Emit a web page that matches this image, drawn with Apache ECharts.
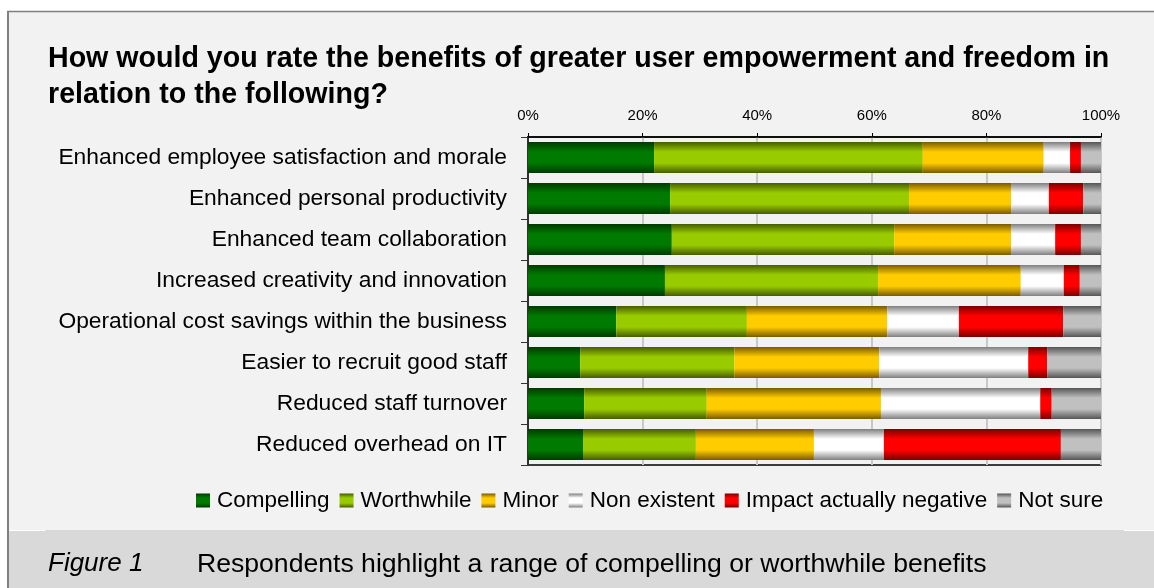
<!DOCTYPE html>
<html>
<head>
<meta charset="utf-8">
<script src="https://cdn.jsdelivr.net/npm/echarts@6/dist/echarts.min.js"></script>
<style>
  html, body { margin: 0; padding: 0; background: #ffffff; }
  #chart { width: 1154px; height: 588px; }
</style>
</head>
<body>
<div id="chart"></div>
<script>
// Survey question and statements (top to bottom)
const titleText = 'How would you rate the benefits of greater user empowerment and freedom in\nrelation to the following?';
const categories = [
  'Enhanced employee satisfaction and morale',
  'Enhanced personal productivity',
  'Enhanced team collaboration',
  'Increased creativity and innovation',
  'Operational cost savings within the business',
  'Easier to recruit good staff',
  'Reduced staff turnover',
  'Reduced overhead on IT'
];

// Share of respondents per answer (%), one value per statement
const compelling   = [22.0, 24.8, 25.1, 23.9, 15.4,  9.1,  9.8,  9.6];
const worthwhile   = [46.9, 41.7, 38.8, 37.2, 22.8, 26.9, 21.4, 19.7];
const minor        = [21.1, 17.8, 20.4, 24.9, 24.5, 25.3, 30.4, 20.6];
const nonExistent  = [ 4.6,  6.6,  7.7,  7.5, 12.5, 26.0, 27.8, 12.2];
const negative     = [ 1.9,  6.0,  4.5,  2.8, 18.2,  3.3,  2.0, 30.9];
const notSure      = [ 3.5,  3.1,  3.5,  3.7,  6.6,  9.4,  8.6,  7.0];

const axisTicks = [0, 20, 40, 60, 80, 100];
const figureLabel = 'Figure 1';
const captionText = 'Respondents highlight a range of compelling or worthwhile benefits';

// Tube-like shading: dark edges, bright middle
function tube(edge, mid) {
  return new echarts.graphic.LinearGradient(0, 0, 0, 1, [
    { offset: 0, color: edge },
    { offset: 0.32, color: mid },
    { offset: 0.68, color: mid },
    { offset: 1, color: edge }
  ]);
}

const seriesDefs = [
  { name: 'Compelling', data: compelling, edge: '#003a00', mid: '#007a00' },
  { name: 'Worthwhile', data: worthwhile, edge: '#465c00', mid: '#99cc00' },
  { name: 'Minor', data: minor, edge: '#7a5a00', mid: '#ffcc00' },
  { name: 'Non existent', data: nonExistent, edge: '#7f7f7f', mid: '#ffffff' },
  { name: 'Impact actually negative', data: negative, edge: '#7a0000', mid: '#ff0000' },
  { name: 'Not sure', data: notSure, edge: '#555555', mid: '#c0c0c0' }
];

const FONT = '"Liberation Sans", Arial, sans-serif';

const chart = echarts.init(document.getElementById('chart'), null, { renderer: 'canvas' });

chart.setOption({
  backgroundColor: '#ffffff',
  animation: false,
  textStyle: { fontFamily: FONT, color: '#000' },
  graphic: [
    { type: 'rect', z: -20, silent: true, shape: { x: 8, y: 11, width: 1146, height: 577 }, style: { fill: '#f2f2f2' } },
    { type: 'rect', z: -19, silent: true, shape: { x: 9, y: 530, width: 1145, height: 58 }, style: { fill: '#d9d9d9' } },
    { type: 'line', z: -18, silent: true, shape: { x1: 9, y1: 530.5, x2: 45, y2: 530.5 }, style: { stroke: '#ffffff', lineWidth: 1 } },
    { type: 'line', z: -18, silent: true, shape: { x1: 1124, y1: 530.5, x2: 1154, y2: 530.5 }, style: { stroke: '#ffffff', lineWidth: 1 } },
    { type: 'line', z: -17, silent: true, shape: { x1: 8, y1: 11, x2: 8, y2: 588 }, style: { stroke: '#808080', lineWidth: 2 } },
    { type: 'line', z: -17, silent: true, shape: { x1: 7, y1: 11.5, x2: 1154, y2: 11.5 }, style: { stroke: '#808080', lineWidth: 1.5 } },
    { type: 'text', z: 5, silent: true, left: 48, top: 551,
      style: { text: figureLabel, fontFamily: FONT, fontSize: 26, fontStyle: 'italic', fill: '#000' } },
    { type: 'text', z: 5, silent: true, left: 197, top: 551,
      style: { text: captionText, fontFamily: FONT, fontSize: 26.6, fill: '#000' } }
  ],
  title: {
    text: titleText,
    left: 43,
    top: 36,
    textStyle: { fontFamily: FONT, fontSize: 28.6, fontWeight: 'bold', color: '#000', lineHeight: 36 }
  },
  legend: {
    left: 191,
    top: 484,
    itemWidth: 14,
    itemHeight: 14,
    itemGap: 10,
    icon: 'rect',
    textStyle: { fontFamily: FONT, fontSize: 22.5, color: '#000', padding: [0, 0, 0, 2] },
    data: seriesDefs.map(s => s.name)
  },
  grid: {
    left: 528,
    right: 53,
    top: 137,
    bottom: 123,
    show: true,
    backgroundColor: 'transparent',
    borderColor: '#000',
    borderWidth: 1.5
  },
  xAxis: {
    type: 'value',
    position: 'top',
    min: axisTicks[0],
    max: axisTicks[axisTicks.length - 1],
    interval: axisTicks[1] - axisTicks[0],
    axisLine: { show: true, lineStyle: { color: '#000', width: 1.5 } },
    axisTick: { show: true, length: 4, lineStyle: { color: '#000', width: 1 } },
    axisLabel: { formatter: '{value}%', fontFamily: FONT, fontSize: 15, color: '#000', margin: 14 },
    splitLine: { show: true, lineStyle: { color: '#c8c8c8', width: 2 } }
  },
  yAxis: {
    type: 'category',
    inverse: true,
    data: categories,
    axisLine: { show: true, lineStyle: { color: '#000', width: 1.5 } },
    axisTick: { show: true, length: 7, lineStyle: { color: '#333', width: 1 } },
    axisLabel: { fontFamily: FONT, fontSize: 22.8, color: '#000', margin: 21 }
  },
  series: seriesDefs.map(s => ({
    name: s.name,
    type: 'bar',
    stack: 'total',
    barWidth: 31,
    data: s.data,
    itemStyle: { color: tube(s.edge, s.mid) },
    emphasis: { disabled: true }
  }))
});
</script>
</body>
</html>
